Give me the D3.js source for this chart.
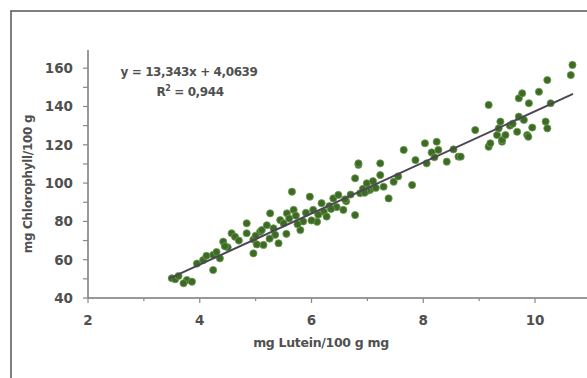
<!DOCTYPE html>
<html>
<head>
<meta charset="utf-8">
<script src="https://cdn.jsdelivr.net/npm/d3@7"></script>
<style>
  body { margin: 0; background: #fff; }
  svg text { font-family: "DejaVu Sans", sans-serif; font-weight: bold; fill: #505050; }
</style>
</head>
<body>
<div id="chart"></div>
<script>
// data
const lutein = [
  3.50, 3.56, 3.77, 3.86, 3.71, 3.62, 3.95, 4.06, 4.12, 4.24, 4.24, 4.36, 4.30, 4.42, 4.57, 4.63,
  4.50, 4.70, 4.84, 4.84, 4.96, 4.96, 5.08, 5.14, 5.11, 5.00, 5.20, 5.26, 5.32, 5.41, 5.44, 5.50,
  5.56, 5.35, 5.60, 5.65, 5.68, 5.72, 5.80, 5.85, 5.90, 5.97, 6.03, 6.10, 6.18, 6.22, 6.27, 6.32,
  6.39, 6.48, 6.57, 6.62, 6.70, 6.78, 6.84, 6.87, 6.78, 6.84, 6.92, 6.99, 7.05, 7.10, 7.23, 7.23,
  7.29, 7.38, 7.47, 7.15, 7.55, 7.65, 7.80, 7.86, 8.03, 8.06, 8.15, 8.24, 8.27, 8.20, 8.42, 8.54,
  8.63, 8.67, 8.93, 9.17, 9.17, 9.20, 9.32, 9.35, 9.38, 9.41, 9.41, 9.47, 9.55, 9.68, 9.71, 9.71,
  9.77, 9.80, 9.86, 9.88, 9.89, 10.07, 10.19, 10.22, 10.22, 10.28, 10.64, 10.67, 5.02, 5.55,
  6.00, 6.45, 6.60, 7.00, 4.45, 5.25, 5.75, 6.12, 6.35, 6.95, 9.60, 9.95
]
const chlorophyll = [
  50.3, 49.8, 49.4, 48.5, 47.7, 51.5, 58.0, 59.8, 62.0, 62.5, 54.6, 60.7, 64.0, 69.4, 73.8, 72.0,
  66.5, 70.0, 79.0, 73.8, 63.3, 70.5, 74.6, 67.7, 75.5, 72.5, 78.0, 84.2, 76.4, 68.6, 80.7, 79.0,
  84.2, 73.0, 81.5, 95.5, 86.0, 83.0, 75.5, 80.0, 84.5, 92.9, 86.0, 79.8, 89.5, 85.0, 82.5, 88.0,
  92.0, 93.8, 86.0, 90.5, 94.0, 83.3, 109.5, 94.7, 102.5, 110.3, 97.0, 99.9, 96.5, 101.0, 110.3, 104.2,
  98.1, 92.0, 100.7, 97.5, 103.5, 117.3, 99.0, 112.0, 120.8, 110.3, 116.0, 121.6, 117.3, 113.5, 111.2, 117.6,
  113.8, 113.8, 127.7, 140.8, 119.0, 120.8, 125.1, 128.6, 132.1, 121.6, 122.5, 125.1, 130.0, 126.8, 144.3, 134.7,
  146.9, 133.0, 125.1, 124.2, 141.7, 147.7, 132.1, 153.8, 128.6, 141.7, 156.4, 161.7, 68.0, 73.5,
  80.5, 87.5, 91.5, 96.0, 67.0, 71.0, 78.5, 83.5, 86.5, 95.0, 131.0, 129.0
]
const slope = 13.343
const intercept = 4.0639
const r2 = 0.944
const fitRange = [3.45, 10.68]
const xTickValues = [2, 4, 6, 8, 10]
const yTickValues = [40, 60, 80, 100, 120, 140, 160]
const xTitle = "mg Lutein/100 g mg"
const yTitle = "mg Chlorophyll/100 g"

const width = 587
const height = 378

const svg = d3.select("#chart")
  .append("svg")
  .attr("width", width)
  .attr("height", height)

// outer frame, cut by the right and bottom edges
svg.append("rect")
  .attr("x", 11)
  .attr("y", 11)
  .attr("width", 640)
  .attr("height", 440)
  .attr("fill", "none")
  .attr("stroke", "#555")
  .attr("stroke-width", 1.5)

const x = d3.scaleLinear().domain([2, 10.93]).range([88, 587])
const y = d3.scaleLinear().domain([40, 169.5]).range([298, 50])

const fmt = d3.format("d")

/* ------- Y AXIS -------*/
const yAxis = svg.append("g").attr("transform", "translate(" + x(2) + ",0)")
yAxis.append("line")
  .attr("y1", y(169.5)).attr("y2", y(40))
  .attr("stroke", "#777").attr("stroke-width", 1.5)
yAxis.selectAll("line.tick")
  .data(d3.range(40, 170, 10))
  .enter().append("line")
  .attr("class", "tick")
  .attr("x1", -5).attr("x2", 0)
  .attr("y1", d => y(d)).attr("y2", d => y(d))
  .attr("stroke", "#888").attr("stroke-width", 1.2)
yAxis.selectAll("text")
  .data(yTickValues)
  .enter().append("text")
  .attr("x", -15)
  .attr("y", d => y(d) + 5)
  .attr("text-anchor", "end")
  .style("font-size", "13.5px")
  .text(fmt)

/* ------- X AXIS -------*/
const xAxis = svg.append("g").attr("transform", "translate(0," + y(40) + ")")
xAxis.append("line")
  .attr("x1", x(2)).attr("x2", width)
  .attr("stroke", "#777").attr("stroke-width", 1.5)
xAxis.selectAll("line.tick")
  .data(d3.range(2, 11, 1))
  .enter().append("line")
  .attr("class", "tick")
  .attr("x1", d => x(d)).attr("x2", d => x(d))
  .attr("y1", 0).attr("y2", d => d % 2 === 0 ? 5 : 3)
  .attr("stroke", "#888").attr("stroke-width", 1.2)
xAxis.selectAll("text")
  .data(xTickValues)
  .enter().append("text")
  .attr("x", d => x(d))
  .attr("y", 27)
  .attr("text-anchor", "middle")
  .style("font-size", "13.5px")
  .text(fmt)

/* ------- AXIS TITLES -------*/
svg.append("text")
  .attr("x", 321)
  .attr("y", 347)
  .attr("text-anchor", "middle")
  .style("font-size", "12.5px")
  .style("letter-spacing", "-0.3px")
  .text(xTitle)

svg.append("text")
  .attr("transform", "translate(32,184) rotate(-90)")
  .attr("text-anchor", "middle")
  .style("font-size", "12px")
  .style("letter-spacing", "-0.3px")
  .text(yTitle)

/* ------- POINTS -------*/
const points = lutein.map((v, i) => ({ x: v, y: chlorophyll[i] }))
svg.append("g")
  .selectAll("circle")
  .data(points)
  .enter().append("circle")
  .attr("cx", d => x(d.x))
  .attr("cy", d => y(d.y))
  .attr("r", 3.6)
  .attr("fill", "#3d6b26")
  .attr("stroke", "#6f9a52")
  .attr("stroke-width", 0.8)

/* ------- FIT LINE -------*/
const line = d3.line().x(d => x(d)).y(d => y(slope * d + intercept))
svg.append("path")
  .datum(fitRange)
  .attr("d", line)
  .attr("fill", "none")
  .attr("stroke", "#4b4556")
  .attr("stroke-width", 2)

/* ------- EQUATION -------*/
const comma = s => s.replace(".", ",")
svg.append("text")
  .attr("x", 189)
  .attr("y", 76)
  .attr("text-anchor", "middle")
  .style("font-size", "12px")
  .style("letter-spacing", "-0.4px")
  .text("y = " + comma(String(slope)) + "x + " + comma(String(intercept)))

const r2Text = svg.append("text")
  .attr("x", 190)
  .attr("y", 96)
  .attr("text-anchor", "middle")
  .style("font-size", "12px")
  .style("letter-spacing", "-0.4px")
r2Text.append("tspan").text("R")
r2Text.append("tspan").attr("dy", -5).style("font-size", "8px").text("2")
r2Text.append("tspan").attr("dy", 5).text(" = " + comma(String(r2)))
</script>
</body>
</html>
